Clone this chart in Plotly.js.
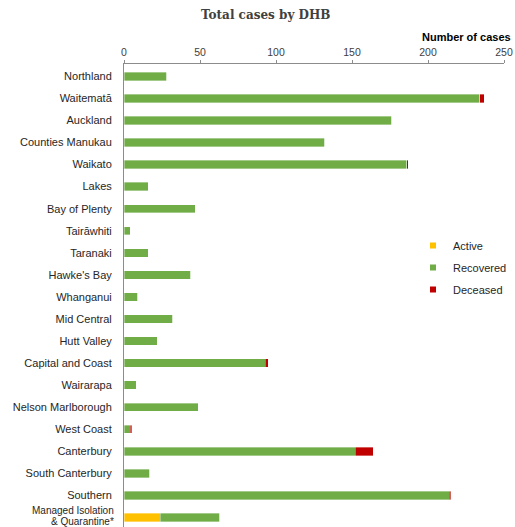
<!DOCTYPE html>
<html>
<head>
<meta charset="utf-8">
<script src="https://cdn.plot.ly/plotly-3.0.1.min.js"></script>
<style>html,body{margin:0;padding:0;background:#fff;overflow:hidden;}#chart{width:515px;height:527px;}</style>
</head>
<body>
<div id="chart"></div>
<script>
const dhb = ["Northland","Waitematā","Auckland","Counties Manukau","Waikato","Lakes","Bay of Plenty","Tairāwhiti","Taranaki","Hawke's Bay","Whanganui","Mid Central","Hutt Valley","Capital and Coast","Wairarapa","Nelson Marlborough","West Coast","Canterbury","South Canterbury","Southern","Managed Isolation & Quarantine*"];
const active    = [0,0,0,0,0,0,0,0,0,0,0,0,0,0,0,0,0,0,0,0,24];
const recovered = [28,234,176,132,186,16,47,4,16,44,9,32,22,93,8,49,4,152,17,214,39];
const deceased  = [0,3,0,0,1,0,0,0,0,0,0,0,0,2,0,0,1,12,0,1,0];
const seriesNames = ["Active","Recovered","Deceased"];
const xTicks = [0,50,100,150,200,250];
// the last category label is drawn on two lines
const lastLabelLines = ["Managed Isolation","& Quarantine*"];

const colors = ['#FFC000','#70AD47','#C00000'];
const lineStyle = {color:'rgba(255,255,255,0.6)', width:0.6};
const values = [active, recovered, deceased];
const traces = [];
values.forEach((v,i)=>{
  traces.push({name:seriesNames[i], y:dhb, x:v, type:'bar', orientation:'h',
    marker:{color:colors[i], line:lineStyle}, showlegend:false, hoverinfo:'skip'});
});
// legend proxies with small square markers
seriesNames.forEach((n,i)=>{
  traces.push({name:n, x:[null], y:[null], type:'scatter', mode:'markers',
    marker:{symbol:'square', size:6, color:colors[i]}, legendgroup:'g'+i, showlegend:true});
});
const lastCat = dhb[dhb.length-1];
const tickText = dhb.map((d,i)=> i===dhb.length-1 ? '' : d);
const annotations = [
  {text:'<b>Total cases by DHB</b>', xref:'paper', yref:'paper', x:(265-124)/380, y:1+(64-15)/463,
   xanchor:'center', yanchor:'middle', showarrow:false, font:{family:'DejaVu Serif', size:12, color:'#404040'}},
  {text:'<b>Number of cases</b>', xref:'paper', yref:'paper', x:(513-124)/380, y:1+(64-37)/463,
   xanchor:'right', yanchor:'middle', showarrow:false, font:{size:11, color:'#000'}}
];
lastLabelLines.forEach((t,k)=>{
  annotations.push({text:t, xref:'paper', yref:'y', x:0, y:lastCat, xanchor:'right', yanchor:'middle',
    xshift:-8, yshift: k===0 ? 7 : -4, showarrow:false, font:{size:10, color:'#262626'}});
});
const layout = {
  width:515, height:527, autosize:false,
  margin:{l:124, r:11, t:64, b:0, pad:0, autoexpand:false},
  paper_bgcolor:'#fff', plot_bgcolor:'#fff',
  barmode:'stack', bargap:0.62,
  showlegend:true,
  font:{family:'Liberation Sans', size:10, color:'#262626'},
  xaxis:{side:'top', range:[0,250], tickvals:xTicks, ticktext:xTicks.map(String),
         showgrid:false, zeroline:false, showline:true, linecolor:'#8c8c8c', linewidth:1,
         ticks:'outside', ticklen:3, tickcolor:'#8c8c8c', tickfont:{size:10.5,color:'#404040'}, fixedrange:true},
  yaxis:{type:'category', autorange:false, range:[20.43,-0.56], tickvals:dhb, ticktext:tickText, showgrid:false, zeroline:false, showline:true,
         linecolor:'#8c8c8c', linewidth:1, ticks:'', ticklabelstandoff:9, tickfont:{size:11,color:'#262626'}},
  legend:{x:(413-124)/380, y:1-(231-64)/463, xanchor:'left', yanchor:'top', traceorder:'grouped', tracegroupgap:3,
          font:{size:11,color:'#262626'}, bgcolor:'rgba(0,0,0,0)', itemwidth:30},
  annotations:annotations
};
Plotly.newPlot('chart', traces, layout, {displayModeBar:false, staticPlot:true});
</script>
</body>
</html>
